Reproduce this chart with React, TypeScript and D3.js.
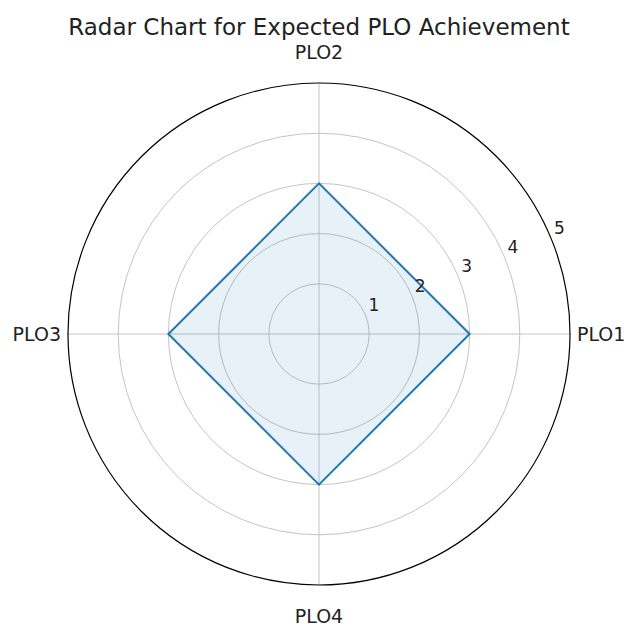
import { useRef, useEffect } from 'react';
import * as d3 from 'd3';

const categories = ['PLO1', 'PLO2', 'PLO3', 'PLO4'];
const values = [3, 3, 3, 3];
const radialTicks = [1, 2, 3, 4, 5];
const title = 'Radar Chart for Expected PLO Achievement';

const App = () => {
  const svgRef = useRef(null);

  useEffect(() => {
    const svg = d3.select(svgRef.current);
    svg.selectAll('*').remove();
    const width = 626;
    const height = 626;
    const cx = 319;
    const cy = 334;
    const R = 251;

    svg.attr('width', width).attr('height', height)
      .style('font-family', 'DejaVu Sans, sans-serif')
      .style('background', '#fff');

    const r = d3.scaleLinear().domain([0, 5]).range([0, R]);
    // polar like matplotlib: 0 = east, counter-clockwise
    const angle = d3.scaleLinear().domain([0, categories.length]).range([0, 2 * Math.PI]);
    const pt = (a, rad) => [cx + rad * Math.cos(a), cy - rad * Math.sin(a)];

    const g = svg.append('g');

    g.selectAll('circle.grid')
      .data(radialTicks.slice(0, -1))
      .join('circle')
      .attr('cx', cx).attr('cy', cy)
      .attr('r', d => r(d))
      .attr('fill', 'none')
      .attr('stroke', '#c4c4c4')
      .attr('stroke-width', 1);

    g.selectAll('line.spoke')
      .data(categories)
      .join('line')
      .attr('x1', cx).attr('y1', cy)
      .attr('x2', (d, i) => pt(angle(i), R)[0])
      .attr('y2', (d, i) => pt(angle(i), R)[1])
      .attr('stroke', '#c4c4c4')
      .attr('stroke-width', 1);

    const poly = values.map((v, i) => pt(angle(i), r(v)));
    const line = d3.line().curve(d3.curveLinearClosed);
    g.append('path')
      .attr('d', line(poly))
      .attr('fill', '#1f77b4')
      .attr('fill-opacity', 0.1)
      .attr('stroke', '#1f77b4')
      .attr('stroke-width', 2)
      .attr('stroke-linejoin', 'miter');

    g.append('circle')
      .attr('cx', cx).attr('cy', cy).attr('r', R)
      .attr('fill', 'none')
      .attr('stroke', '#000')
      .attr('stroke-width', 1.2);

    // r labels sit at 22.5 deg
    const la = 22.5 * Math.PI / 180;
    g.selectAll('text.rtick')
      .data(radialTicks)
      .join('text')
      .attr('x', d => pt(la, r(d))[0] + 3)
      .attr('y', d => pt(la, r(d))[1] - 4)
      .attr('font-size', 17)
      .attr('fill', '#222')
      .text(d => d);

    g.selectAll('text.cat')
      .data(categories)
      .join('text')
      .attr('x', (d, i) => {
        const c = Math.cos(angle(i));
        return pt(angle(i), R)[0] + (c > 0.1 ? 7 : c < -0.1 ? -7 : 0);
      })
      .attr('y', (d, i) => {
        const s = Math.sin(angle(i));
        return pt(angle(i), R)[1] + (s > 0.1 ? -31 : s < -0.1 ? 31 : 0);
      })
      .attr('text-anchor', (d, i) => {
        const c = Math.cos(angle(i));
        return c > 0.1 ? 'start' : c < -0.1 ? 'end' : 'middle';
      })
      .attr('dominant-baseline', 'central')
      .attr('font-size', 19)
      .attr('fill', '#222')
      .text(d => d);

    svg.append('text')
      .attr('x', 319)
      .attr('y', 35)
      .attr('text-anchor', 'middle')
      .attr('font-size', 23)
      .attr('fill', '#222')
      .text(title);
  }, []);

  return (
    <svg ref={svgRef} style={{ position: 'absolute', left: 0, top: 0 }}></svg>
  );
};

export default App;
